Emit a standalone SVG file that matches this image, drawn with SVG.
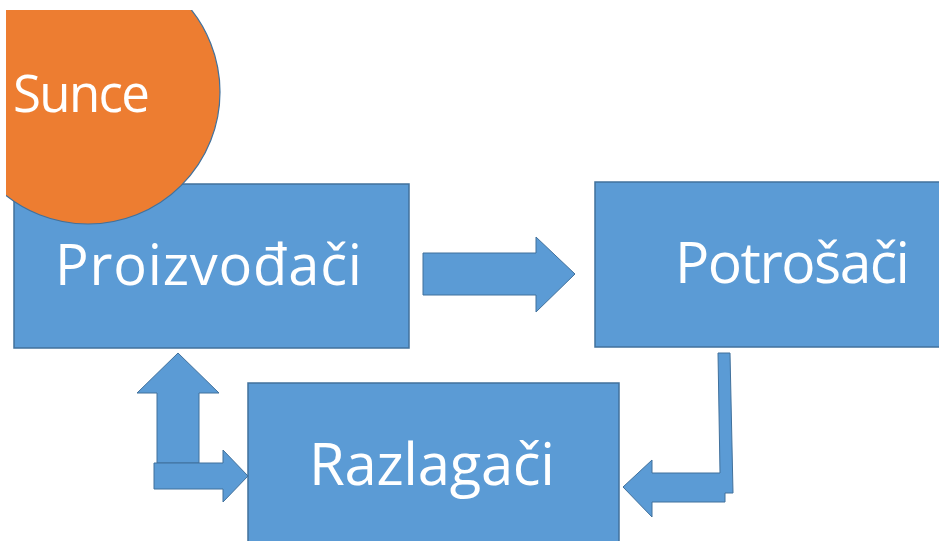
<svg xmlns="http://www.w3.org/2000/svg" width="939" height="541" viewBox="0 0 939 541">
  <style>
    .box { fill: #5B9BD5; stroke: #41719C; stroke-width: 1.5; }
    .arrow { fill: #5B9BD5; stroke: #41719C; stroke-width: 1; stroke-linejoin: miter; }
    .sun { fill: #ED7D31; stroke: #41719C; stroke-width: 1.2; }
    .label { font-family: "Open Sans", "Noto Sans", "Liberation Sans", sans-serif; fill: #FFFFFF; }
  </style>
  <defs>
    <clipPath id="page">
      <rect x="6" y="10" width="933" height="531"/>
    </clipPath>
  </defs>
  <rect width="939" height="541" fill="#FFFFFF"/>

  <g clip-path="url(#page)">
    <g id="proizvodaci">
      <rect class="box" x="14" y="184" width="395" height="164"/>
      <text class="label" x="55" y="285" font-size="56" textLength="307">Proizvođači</text>
    </g>

    <g id="sunce">
      <circle class="sun" cx="88" cy="92" r="132"/>
      <text class="label" x="13" y="112" font-size="51" textLength="137">Sunce</text>
    </g>

    <g id="potrosaci">
      <rect class="box" x="595" y="182" width="360" height="165"/>
      <text class="label" x="675" y="283" font-size="57" textLength="235">Potrošači</text>
    </g>

    <g id="razlagaci">
      <rect class="box" x="248" y="383" width="371" height="170"/>
      <text class="label" x="309" y="485" font-size="58" textLength="246">Razlagači</text>
    </g>

    <g id="connectors">
      <!-- Proizvođači to Potrošači -->
      <polygon class="arrow" points="423,253 536,253 536,237 575,274 536,312 536,295 423,295"/>
      <!-- Potrošači down and back to Razlagači -->
      <polygon class="arrow" points="718,353 730,353 733,493 725,493 725,502 652,502 652,517 623,487 652,460 652,473 720,473"/>
      <!-- Razlagači up to Proizvođači -->
      <polygon class="arrow" points="178,353 219,393 199,393 199,463 157,463 157,393 137,393"/>
      <!-- into Razlagači -->
      <polygon class="arrow" points="154,463 223,463 223,450 248,476 223,502 223,489 154,489"/>
    </g>
  </g>
</svg>
